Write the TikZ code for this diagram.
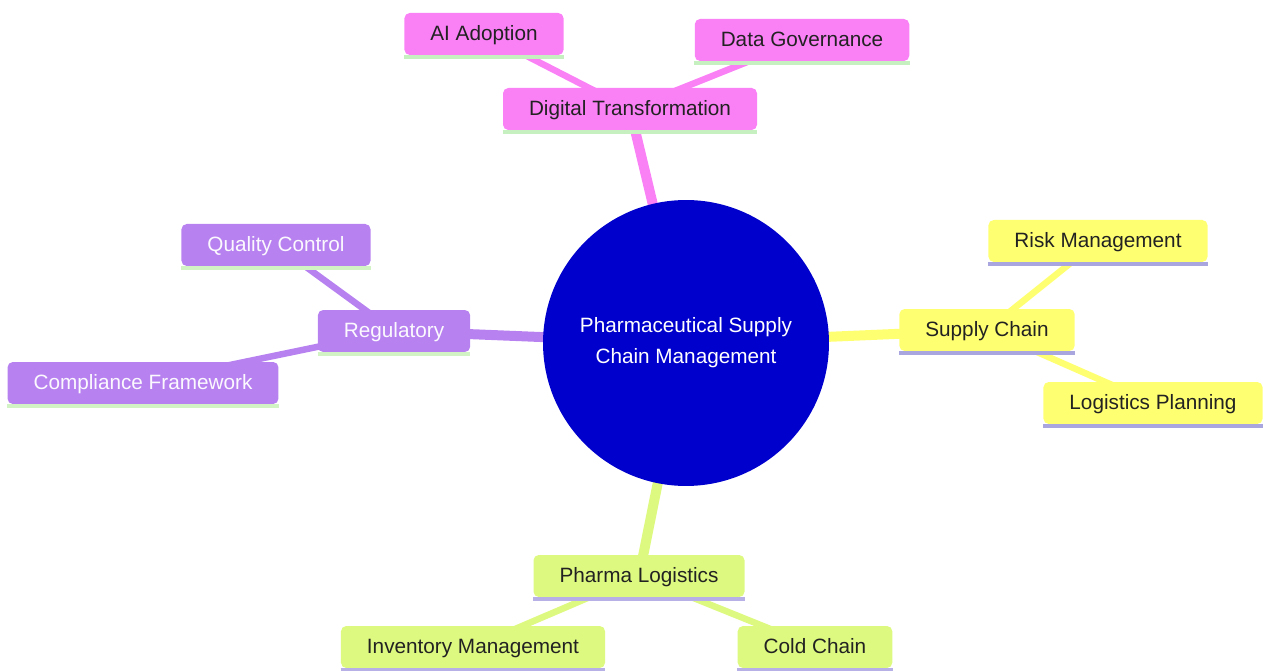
\documentclass[tikz,border=0pt]{standalone}
\usepackage{fontspec}
\setmainfont{Liberation Sans}
\usetikzlibrary{backgrounds}

\definecolor{rootblue}{HTML}{0000CC}
\definecolor{pinkfill}{HTML}{FA80F6}
\definecolor{pinkline}{HTML}{C6F0C0}
\definecolor{purplefill}{HTML}{B781F0}
\definecolor{purpleline}{HTML}{D2F3C4}
\definecolor{yellowfill}{HTML}{FFFF72}
\definecolor{yellowline}{HTML}{A9A6DF}
\definecolor{limefill}{HTML}{DDF97F}
\definecolor{limeline}{HTML}{B7B0E6}
\definecolor{textdark}{HTML}{222222}

\tikzset{
	topic/.style={rounded corners=3pt, minimum height=0.84cm, inner xsep=0.52cm,
		text height=0.72em, text depth=0pt,
		font=\fontsize{11.8}{14}\selectfont, text=textdark},
	underline/.style={append after command={([yshift=-1pt]\tikzlastnode.south west)
		edge[draw=#1, line width=2.2pt, rounded corners=0pt] ([yshift=-1pt]\tikzlastnode.south east)}},
	pinkbox/.style={topic, fill=pinkfill, underline=pinkline},
	purplebox/.style={topic, fill=purplefill, underline=purpleline, text=white!95!purplefill},
	yellowbox/.style={topic, fill=yellowfill, underline=yellowline},
	limebox/.style={topic, fill=limefill, underline=limeline},
	trunk/.style={line width=0.2cm},
	twig/.style={line width=0.13cm}
}

\begin{document}
\begin{tikzpicture}[x=0.02cm, y=-0.02cm]
	\useasboundingbox (0, 0) rectangle (1263, 671);
	\node[circle, fill=rootblue, minimum size=5.72cm, text=white, align=center,
		font=\fontsize{11.8}{17.6}\selectfont] at (686, 343) (root)
		{Pharmaceutical Supply\\Chain Management};

	\node[pinkbox] at (630, 109) (digital) {Digital Transformation};
	\node[pinkbox] at (484, 34) (ai) {AI Adoption};
	\node[pinkbox] at (802, 40) (governance) {Data Governance};

	\node[purplebox] at (394, 331) (regulatory) {Regulatory};
	\node[purplebox] at (276, 245) (quality) {Quality Control};
	\node[purplebox] at (143, 383) (compliance) {Compliance Framework};

	\node[yellowbox] at (987, 330) (supply) {Supply Chain};
	\node[yellowbox] at (1098, 241) (risk) {Risk Management};
	\node[yellowbox] at (1153, 403) (planning) {Logistics Planning};

	\node[limebox] at (639, 576) (logistics) {Pharma Logistics};
	\node[limebox] at (473, 647) (inventory) {Inventory Management};
	\node[limebox] at (815, 647) (cold) {Cold Chain};

	\begin{pgfonlayer}{background}
		\draw[trunk, pinkfill] (root.center) -- (digital.center);
		\draw[twig, pinkfill] (digital.center) -- (ai.center);
		\draw[twig, pinkfill] (digital.center) -- (governance.center);
		\draw[trunk, purplefill] (root.center) -- (regulatory.center);
		\draw[twig, purplefill] (regulatory.center) -- (quality.center);
		\draw[twig, purplefill] (regulatory.center) -- (compliance.center);
		\draw[trunk, yellowfill] (root.center) -- (supply.center);
		\draw[twig, yellowfill] (supply.center) -- (risk.center);
		\draw[twig, yellowfill] (supply.center) -- (planning.center);
		\draw[trunk, limefill] (root.center) -- (logistics.center);
		\draw[twig, limefill] (logistics.center) -- (inventory.center);
		\draw[twig, limefill] (logistics.center) -- (cold.center);
	\end{pgfonlayer}
\end{tikzpicture}
\end{document}
